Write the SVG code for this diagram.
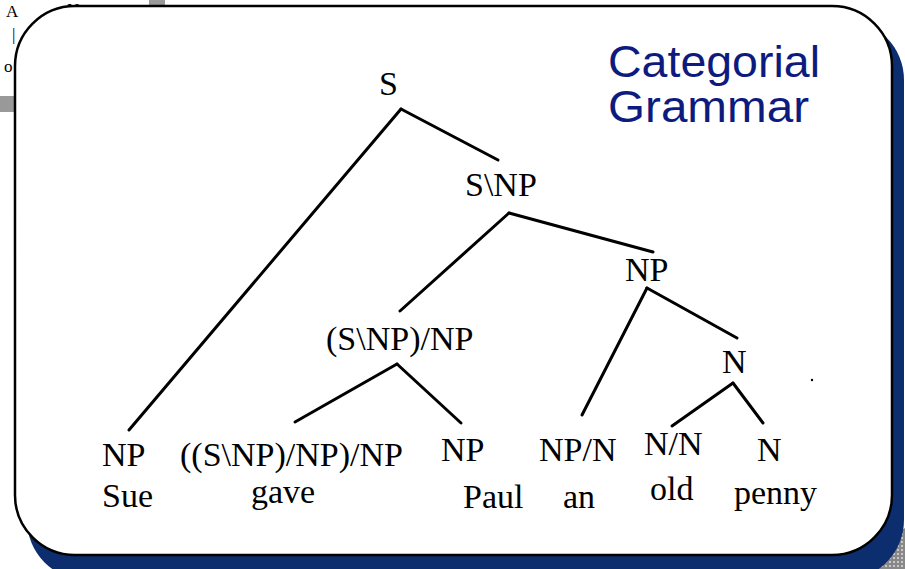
<svg xmlns="http://www.w3.org/2000/svg" width="905" height="569" viewBox="0 0 905 569">
<style>
.lbl{font-family:"Liberation Serif","Times New Roman",serif;font-size:34px;fill:#000}
.bg{font-family:"Liberation Serif","Times New Roman",serif;font-size:17px;fill:#000}
.title{font-family:"Liberation Sans",Arial,sans-serif;font-size:44px;fill:#0d1b7e}
.edge{stroke:#000;stroke-width:3;stroke-linecap:round;fill:none}
</style>
<defs>
<pattern id="dots" width="4" height="4" patternUnits="userSpaceOnUse">
<rect width="4" height="4" fill="#888"/>
<circle cx="2" cy="2" r="1" fill="#ddd"/>
</pattern>
</defs>
<rect width="905" height="569" fill="#fff"/>
<g id="background">
<text class="bg" x="6" y="17">A</text>
<text class="bg" x="12" y="40">|</text>
<text class="bg" x="4" y="72">o</text>
<text class="bg" x="67" y="15">N</text>
<rect x="149" y="0" width="16" height="8" fill="#999"/>
<rect x="0" y="96" width="16" height="16" fill="#999"/>
<polygon points="870,569 885,540 905,528 905,569" fill="url(#dots)"/>
</g>
<g id="frame">
<rect x="27" y="20" width="877" height="560" rx="60" ry="60" fill="#0c2d6e"/>
<rect x="15" y="6" width="877" height="549" rx="60" ry="60" fill="#fff" stroke="#000" stroke-width="2.5"/>
</g>
<g id="title">
<text class="title" x="608" y="77" textLength="212" lengthAdjust="spacingAndGlyphs">Categorial</text>
<text class="title" x="608" y="122" textLength="201" lengthAdjust="spacingAndGlyphs">Grammar</text>
</g>
<g id="connectors">
<line class="edge" x1="401" y1="109" x2="129" y2="430"/>
<line class="edge" x1="401" y1="109" x2="498" y2="160"/>
<line class="edge" x1="509" y1="213" x2="400" y2="311"/>
<line class="edge" x1="509" y1="213" x2="653" y2="252"/>
<line class="edge" x1="647" y1="288" x2="582" y2="415"/>
<line class="edge" x1="647" y1="288" x2="737" y2="338"/>
<line class="edge" x1="397" y1="364" x2="295" y2="422"/>
<line class="edge" x1="397" y1="364" x2="461" y2="423"/>
<line class="edge" x1="733" y1="383" x2="672" y2="426"/>
<line class="edge" x1="733" y1="383" x2="763" y2="423"/>
</g>
<g id="node-S"><text class="lbl" x="379" y="95">S</text></g>
<g id="node-SNP"><text class="lbl" x="465" y="196">S\NP</text></g>
<g id="node-NP-obj"><text class="lbl" x="625" y="281">NP</text></g>
<g id="node-SNP-NP"><text class="lbl" x="326" y="350">(S\NP)/NP</text></g>
<g id="node-N"><text class="lbl" x="722" y="373">N</text></g>
<g id="node-Sue"><text class="lbl" x="102" y="466">NP</text><text class="lbl" x="102" y="507">Sue</text></g>
<g id="node-gave"><text class="lbl" x="180" y="466">((S\NP)/NP)/NP</text><text class="lbl" x="251" y="503">gave</text></g>
<g id="node-Paul"><text class="lbl" x="441" y="461">NP</text><text class="lbl" x="463" y="508">Paul</text></g>
<g id="node-an"><text class="lbl" x="539" y="461">NP/N</text><text class="lbl" x="563" y="508">an</text></g>
<g id="node-old"><text class="lbl" x="644" y="455">N/N</text><text class="lbl" x="650" y="500">old</text></g>
<g id="node-penny"><text class="lbl" x="757" y="461">N</text><text class="lbl" x="734" y="504">penny</text></g>
<circle cx="812" cy="380" r="1.2" fill="#000"/>
</svg>
